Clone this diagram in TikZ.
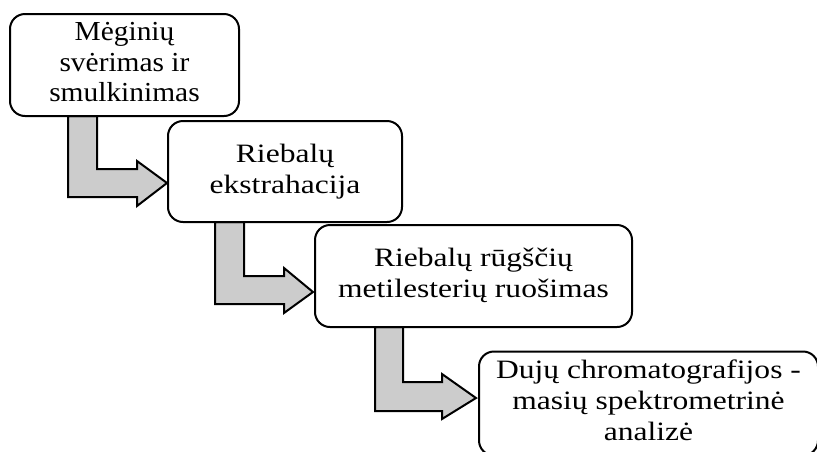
\documentclass[tikz,border=0pt]{standalone}
\usepackage{fontspec}
\setmainfont{Liberation Serif}
\newcommand{\stretchtext}[2][1.19]{\scalebox{#1}[1]{\begin{tabular}{@{}c@{}}#2\end{tabular}}}
\begin{document}
\begin{tikzpicture}[x=1pt,y=-1pt,
  stepbox/.style={draw=black,line width=2pt,rounded corners=15pt,fill=white,
    align=center,inner sep=0pt,font=\fontsize{26.5}{31}\selectfont},
  blockarrow/.style={draw=black,line width=2pt,fill=black!20,line join=miter}]
\useasboundingbox (0,0) rectangle (817,451);
\clip (0,0) rectangle (817,451);
% block arrows
\draw[blockarrow] (68,116) -- (97,116) -- (97,169) -- (137,169) -- (137,161) -- (167,183)
  -- (137,206) -- (137,197) -- (68,197) -- cycle;
\draw[blockarrow] (215,222) -- (244,222) -- (244,276) -- (284,276) -- (284,268) -- (313,292)
  -- (284,313) -- (284,304) -- (215,304) -- cycle;
\draw[blockarrow] (375,327) -- (403,327) -- (403,382) -- (442,382) -- (442,374) -- (476,398)
  -- (442,419) -- (442,411) -- (375,411) -- cycle;
% boxes
\node[stepbox,font=\fontsize{27.5}{30.5}\selectfont,minimum width=229pt,minimum height=102pt] (b1) at (124.5,65)
  {\stretchtext[1.07]{Mėginių\\svėrimas ir\\smulkinimas}};
\node[stepbox,minimum width=234pt,minimum height=101pt] (b2) at (285,171.5)
  {\stretchtext{Riebalų\\ekstrahacija}};
\node[stepbox,minimum width=317pt,minimum height=102pt] (b3) at (473.5,276)
  {\stretchtext{Riebalų rūgščių\\metilesterių ruošimas}};
\node[stepbox,minimum width=339pt,minimum height=104pt] (b4) at (648.5,403.5)
  {\stretchtext{Dujų chromatografijos -\\masių spektrometrinė\\analizė}};
\end{tikzpicture}
\end{document}
